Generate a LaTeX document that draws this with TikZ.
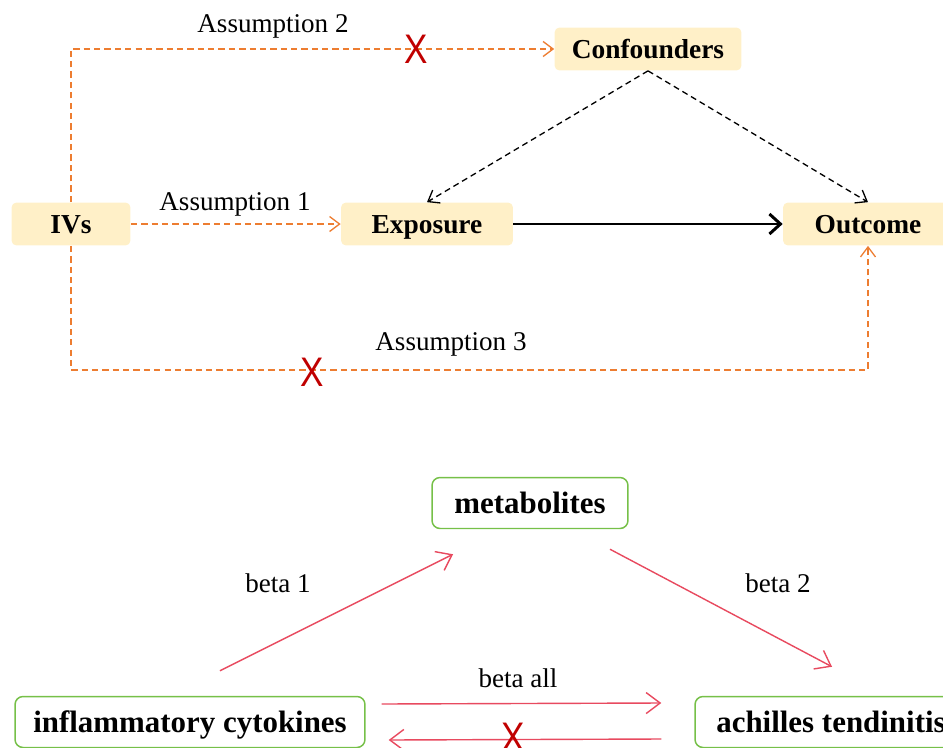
\documentclass[tikz,border=0pt]{standalone}
\usepackage{fontspec}
\setmainfont{Liberation Serif}
\newfontfamily\crossfont{Liberation Sans}
\usetikzlibrary{arrows.meta}
\definecolor{boxyellow}{RGB}{255,240,200}
\definecolor{dashorange}{RGB}{237,125,49}
\definecolor{crossred}{RGB}{192,0,0}
\definecolor{betapink}{RGB}{232,74,95}
\definecolor{boxgreen}{RGB}{118,192,72}

\begin{document}
\begin{tikzpicture}[x=0.02cm, y=-0.02cm]
    \tikzstyle{factor}=[fill=boxyellow, draw=none, shape=rectangle, rounded corners=0.1cm, inner sep=0pt, minimum height=0.86cm, text height=10.3pt, text depth=0pt, font=\fontsize{15.6}{18}\selectfont\bfseries]
    \tikzstyle{trait}=[fill=white, draw=boxgreen, line width=0.85pt, shape=rectangle, rounded corners=0.16cm, inner sep=0pt, minimum height=1.02cm, text height=11.8pt, text depth=0pt, font=\fontsize{17.6}{20}\selectfont\bfseries]
    \tikzstyle{note}=[fill=none, draw=none, inner sep=0pt, font=\fontsize{15.4}{18}\selectfont]
    \tikzstyle{cross}=[text=crossred, inner sep=0pt, xscale=0.85, font=\crossfont\fontsize{23.5}{24}\selectfont]
    \tikzstyle{assumption}=[draw=dashorange, line width=0.75pt, dash pattern=on 3.6pt off 2.3pt, -{Straight Barb[length=0.2cm, width=0.3cm]}]
    \tikzstyle{confounding}=[draw=black, line width=0.75pt, dash pattern=on 3.4pt off 2.3pt, -{Straight Barb[length=0.2cm, width=0.3cm]}]
    \tikzstyle{causal}=[draw=black, line width=1.7pt, -{Straight Barb[length=0.22cm, width=0.4cm]}]
    \tikzstyle{beta}=[draw=betapink, line width=0.8pt, -{Straight Barb[length=0.28cm, width=0.42cm]}]

    \useasboundingbox (0,0) rectangle (943,747);

    % upper diagram
    \node [style=factor, minimum width=2.38cm] (ivs) at (71,224) {IVs};
    \node [style=factor, minimum width=3.44cm] (exposure) at (427,224) {Exposure};
    \node [style=factor, minimum width=3.4cm] (outcome) at (868,224) {Outcome};
    \node [style=factor, minimum width=3.74cm] (confounders) at (648,49) {Confounders};
    \coordinate (corner3) at (868,370);

    \draw [style=assumption] (ivs.north) |- (confounders.west);
    \draw [style=assumption] (ivs.east) -- (exposure.west);
    \draw [style=assumption] (ivs.south) |- (corner3) -- (outcome.south);
    \draw [style=causal] (exposure.east) -- (outcome.west);
    \draw [style=confounding] (confounders.south) -- (exposure.north);
    \draw [style=confounding] (confounders.south) -- (outcome.north);

    \node [style=note] (a2) at (273,26) {Assumption 2};
    \node [style=note] (a1) at (235,204) {Assumption 1};
    \node [style=note] (a3) at (451,344) {Assumption 3};
    \node [style=cross] (x2) at (416,49) {X};
    \node [style=cross] (x3) at (312,372) {X};

    % lower diagram
    \node [style=trait, minimum width=3.92cm] (metab) at (530,503) {metabolites};
    \node [style=trait, minimum width=7.0cm] (cytok) at (190,722) {inflammatory cytokines};
    \node [style=trait, minimum width=5.44cm] (tendin) at (831,722) {achilles tendinitis};

    \coordinate (b1from) at ([shift={(30,-25)}]cytok.north);
    \coordinate (b1to) at ([shift={(-77,25)}]metab.south);
    \coordinate (b2from) at ([shift={(80,20)}]metab.south);
    \coordinate (b2to) at ([shift={(1,-29)}]tendin.north);
    \coordinate (allfrom) at ([shift={(16,-18)}]cytok.east);
    \coordinate (allto) at ([shift={(-33,-19)}]tendin.west);
    \coordinate (backfrom) at ([shift={(-33,17)}]tendin.west);
    \coordinate (backto) at ([shift={(23,18)}]cytok.east);

    \draw [style=beta] (b1from) -- (b1to);
    \draw [style=beta] (b2from) -- (b2to);
    \draw [style=beta] (allfrom) -- (allto);
    \draw [style=beta] (backfrom) -- (backto);

    \node [style=note] (beta1) at (278,583) {beta 1};
    \node [style=note] (beta2) at (778,583) {beta 2};
    \node [style=note] (betaall) at (518,678) {beta all};
    \node [style=cross] (xback) at (513,737) {X};
\end{tikzpicture}
\end{document}
